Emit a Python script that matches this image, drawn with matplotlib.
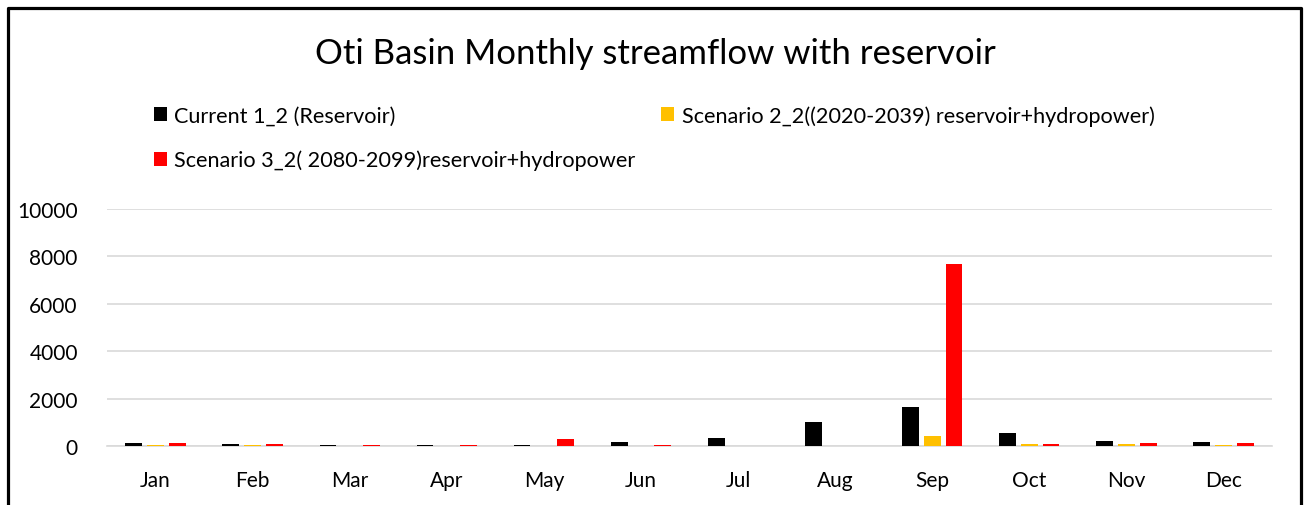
import matplotlib.pyplot as plt
import matplotlib.lines as mlines
import numpy as np

plt.rcParams['font.family'] = ['Lato', 'DejaVu Sans']

months = ["Jan", "Feb", "Mar", "Apr", "May", "Jun",
          "Jul", "Aug", "Sep", "Oct", "Nov", "Dec"]
current = [115, 85, 60, 60, 60, 160, 338, 1013, 1658, 536, 211, 156]
scen2 = [40, 30, 20, 20, 20, 15, 10, 10, 435, 80, 80, 30]
scen3 = [115, 100, 60, 50, 290, 30, 20, 20, 7680, 80, 127, 127]

lab_cur = "Current 1_2 (Reservoir)"
lab_s2 = "Scenario 2_2((2020-2039) reservoir+hydropower)"
lab_s3 = "Scenario 3_2( 2080-2099)reservoir+hydropower"

fig = plt.figure(figsize=(13.06, 5.06), dpi=100)
ax = fig.add_axes([0.0819, 0.1166, 0.8921, 0.4684])

x = np.arange(len(months))
w = 0.172
step = 0.224
b1 = ax.bar(x - step, current, w, color="#000000", label=lab_cur, zorder=3)
b2 = ax.bar(x, scen2, w, color="#FFC000", label=lab_s2, zorder=3)
b3 = ax.bar(x + step, scen3, w, color="#FF0000", label=lab_s3, zorder=3)

ax.set_xlim(-0.5, 11.5)
ax.set_ylim(0, 10000)
ax.set_yticks(range(0, 10001, 2000))
ax.set_xticks(x)
ax.set_xticklabels(months)
ax.grid(axis="y", color="#d9d9d9", linewidth=1.2, zorder=0)
for s in ["top", "right", "left"]:
    ax.spines[s].set_visible(False)
ax.spines["bottom"].set_color("#d9d9d9")
ax.spines["bottom"].set_linewidth(1.2)
ax.tick_params(axis="both", length=0, labelsize=15, colors="#000000")
ax.tick_params(axis="y", pad=21)
ax.tick_params(axis="x", pad=17)

fig.text(0.5015, 0.893, "Oti Basin Monthly streamflow with reservoir",
         ha="center", va="center", fontsize=25)

# column-wise fill: Current & Scenario 3 in the first column
leg = fig.legend([b1, b3, b2], [lab_cur, lab_s3, lab_s2], ncol=2,
                 loc="upper left", bbox_to_anchor=(0.111, 0.807),
                 frameon=False, fontsize=15.6, handlelength=0.6,
                 handleheight=0.6, handletextpad=0.35, columnspacing=1.2,
                 labelspacing=1.1, borderaxespad=0)

# chart frame (open at the bottom)
fx = [8 / 1306, 8 / 1306, 1301 / 1306, 1301 / 1306]
fy = [0, 1 - 9 / 506, 1 - 9 / 506, 0]
fig.add_artist(mlines.Line2D(fx, fy, color="black", linewidth=2.3,
                             transform=fig.transFigure))

plt.savefig("out.png", dpi=100)
plt.close()
